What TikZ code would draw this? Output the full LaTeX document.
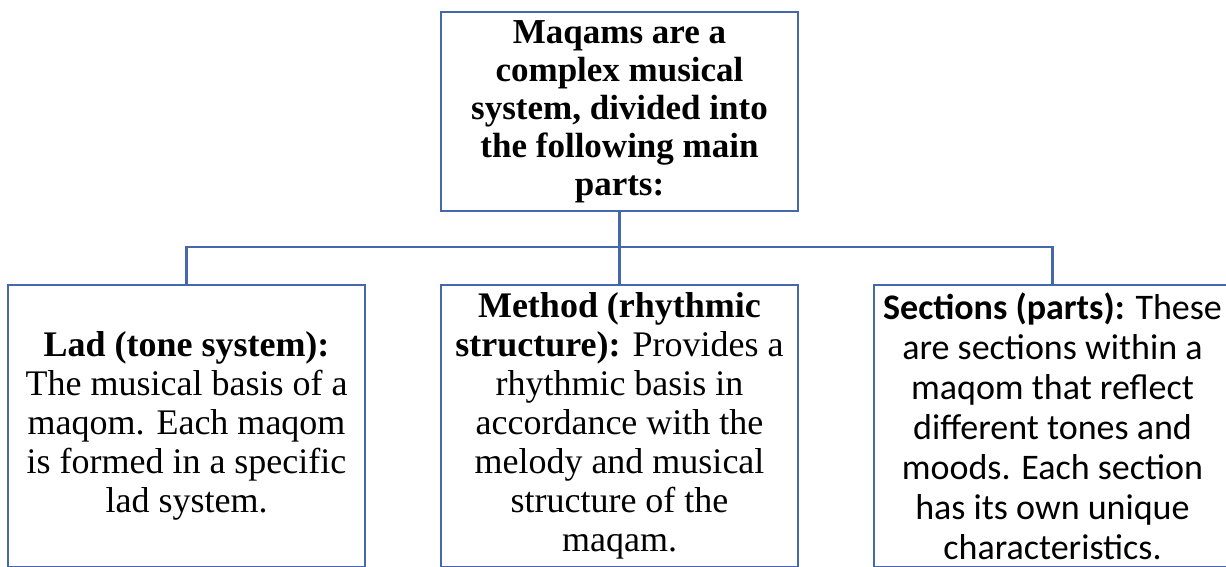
\documentclass[tikz,border=0pt]{standalone}
\usepackage{fontspec}
\setmainfont{Liberation Serif}
\newfontfamily\calibrifont{Carlito}
\usetikzlibrary{positioning}
\definecolor{boxblue}{RGB}{68,104,171}

\begin{document}
\begin{tikzpicture}[
    x=1pt, y=-1pt,
    node distance=72pt and 74pt,
    link/.style={
        draw=boxblue,
        line width=2.5pt
    },
    box/.style={
        rectangle,
        draw=boxblue,
        line width=2pt,
        fill=white,
        minimum width=357pt,
        inner sep=4pt,
        align=center,
        font=\fontsize{35}{38}\selectfont
    },
    part/.style={
        box,
        minimum height=282pt,
        font=\fontsize{36}{39}\selectfont
    }
]

    \path[use as bounding box, clip] (0,0) rectangle (1226,567);

    % Top
    \node[box, minimum height=199pt] (top) at (619.5,111.5)
        {\bfseries Maqams are a\\\bfseries complex musical\\\bfseries system, divided into\\\bfseries the following main\\\bfseries parts:};

    % Parts
    \node[part, below=of top] (method)
        {\textbf{Method (rhythmic}\\\textbf{structure):} Provides a\\rhythmic basis in\\accordance with the\\melody and musical\\structure of the\\maqam.};
    \node[part, left=of method] (lad)
        {\textbf{Lad (tone system):}\\The musical basis of a\\maqom. Each maqom\\is formed in a specific\\lad system.};
    \node[part, right=of method, font=\calibrifont\fontsize{36}{40}\selectfont] (sections)
        {\textbf{Sections (parts):} These\\are sections within a\\maqom that reflect\\different tones and\\moods. Each section\\has its own unique\\characteristics.};

    % Connections
    \coordinate (bus) at (619.5,247);
    \draw[link] (top) -- (bus);
    \draw[link] (bus) -| (lad.north);
    \draw[link] (bus) -| (method.north);
    \draw[link] (bus) -| (sections.north);

\end{tikzpicture}
\end{document}
